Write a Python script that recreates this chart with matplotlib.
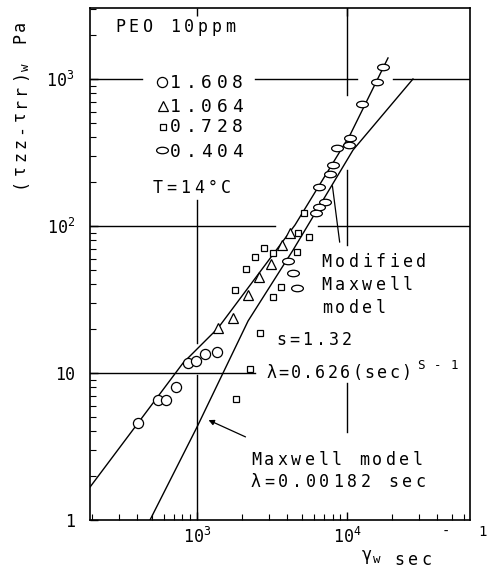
import matplotlib.pyplot as plt
import matplotlib.path as mpath
from matplotlib.transforms import Affine2D
from matplotlib.ticker import NullFormatter

# wall shear rate (1/s) vs first normal stress difference (Pa), PEO 10 ppm, T = 14 C
d1608_x = [404, 550, 621, 724, 871, 985, 1130, 1360]
d1608_y = [4.6, 6.6, 6.6, 8.0, 11.7, 12.1, 13.5, 13.9]

d1064_x = [1380, 1740, 2190, 2590, 3110, 3690, 4170]
d1064_y = [20.2, 23.7, 33.9, 45, 55, 74, 90]

d0728_x = [1790, 2120, 2440, 2800, 3210, 3210, 3630, 4640, 5580, 2630, 2260, 1820, 4710, 5170]
d0728_y = [36.7, 51, 61.5, 70.8, 65.5, 32.9, 38.5, 66.6, 84.2, 18.7, 10.6, 6.65, 89.6, 122]

d0404_x = [17400, 15900, 12600, 10500, 10300, 8570, 8070, 7700, 6510, 7130, 6510, 6210, 4050, 4370, 4640]
d0404_y = [1210, 955, 676, 397, 356, 339, 260, 226, 184, 146, 135, 122, 57.8, 47.9, 37.9]

# model curves
modified_x = [194, 807, 1380, 4500, 10470, 18750]
modified_y = [1.68, 11.7, 20.2, 101.6, 416, 1390]
maxwell_x = [486, 1000, 2190, 4370, 10970, 27500]
maxwell_y = [1.0, 4.29, 22.6, 68.7, 329, 1000]

MONO = 'DejaVu Sans Mono'
plt.rcParams['font.family'] = MONO

W, H = 488, 569
fig = plt.figure(figsize=(W / 100, H / 100), dpi=100)
ax = fig.add_axes([90 / W, 1 - 520 / H, 380 / W, 512 / H])
ax.set_xscale('log')
ax.set_yscale('log')
ax.set_xlim(193.5, 66000)
ax.set_ylim(1, 3040)


def xf(px):
    return (px - 90) / 380


def yf(py):
    return (520 - py) / 512


def typed(s, x, y, step, size=12, rot=0):
    # typewriter lettering: one character per fixed pitch (pixels, from top-left)
    for i, ch in enumerate(s):
        if ch == ' ':
            continue
        if rot:
            cy = y - (i + 0.5) * step
            fig.text(x / W, 1 - cy / H, ch, rotation=90, rotation_mode='anchor',
                     ha='center', va='baseline', fontsize=size)
        else:
            cx = x + (i + 0.5) * step
            fig.text(cx / W, 1 - y / H, ch, ha='center', va='baseline', fontsize=size)


# broken grid lines (interrupted where the lettering sits)
for lo, hi in [(90, 142), (255, 357), (393, 470)]:
    ax.axhline(1000, xf(lo), xf(hi), color='black', lw=1.0)
for lo, hi in [(90, 275), (318, 470)]:
    ax.axhline(100, xf(lo), xf(hi), color='black', lw=1.0)
ax.axhline(10, xf(90), xf(255), color='black', lw=1.0)
for lo, hi in [(200, 343), (375, 520)]:
    ax.axvline(1000, yf(hi), yf(lo), color='black', lw=1.0)
for lo, hi in [(8, 95), (170, 245), (383, 432)]:
    ax.axvline(10000, yf(hi), yf(lo), color='black', lw=1.0)

ax.plot(modified_x, modified_y, color='black', lw=1.0, zorder=2)
ax.plot(maxwell_x, maxwell_y, color='black', lw=1.0, zorder=2)

ellipse = mpath.Path.unit_circle().transformed(Affine2D().scale(1, 0.55))
mk = dict(ls='none', mfc='white', mec='black', mew=0.9, zorder=3)
series = [
    (d1608_x, d1608_y, 'o', 7.3, '1.608'),
    (d1064_x, d1064_y, '^', 6.8, '1.064'),
    (d0728_x, d0728_y, 's', 4.8, '0.728'),
    (d0404_x, d0404_y, ellipse, 8.5, '0.404'),
]
for x, y, m, ms, lab in series:
    ax.plot(x, y, marker=m, ms=ms, **mk)

# legend, drawn by hand like the original
leg_pos = [(162, 82, 88), (163, 106, 112), (163, 127, 132), (162, 150, 157)]
for (x, y, m, ms, lab), (mx, my, base) in zip(series, leg_pos):
    ax.plot([mx / W], [1 - my / H], marker=m, ms=ms, transform=fig.transFigure,
            clip_on=False, **mk)
    typed(lab, 168, base, 15.4, 13)

# pointer lines
ax.annotate('', xy=(7943, 196), xytext=(8980, 74.3),
            arrowprops=dict(arrowstyle='-', color='black', lw=0.9))
ax.annotate('', xy=(1148, 4.87), xytext=(2188, 3.61),
            arrowprops=dict(arrowstyle='-|>', color='black', lw=0.9,
                            mutation_scale=8))

# lettering
typed('PEO 10ppm', 113, 32, 13.8)
typed('T=14°C', 151, 193, 13.7)
typed('Modified', 320, 267, 13.5)
typed('Maxwell', 320, 290, 13.5)
typed('model', 320, 313, 13.5)
typed('s=1.32', 275, 345, 13)
typed('λ=0.626(sec)', 265, 378, 12.3)
typed('S-1', 413, 369, 16.5, 9)
typed('Maxwell model', 249, 465, 13.5)
typed('λ=0.00182 sec', 249, 487, 13.7)

# axis titles
typed('γ', 362, 560, 10)
typed('w', 372, 563, 10, 9)
typed('sec', 392, 565, 13.7)
typed('-', 440, 536, 12, 10)
typed('1', 478, 536, 10, 10)

typed('(τzz-τrr)', 25, 190, 13.5, 12, rot=90)
typed('w', 29, 72, 10, 9, rot=90)
typed('Pa', 25, 44, 12, 12, rot=90)

# ticks
ax.set_xticks([1e3, 1e4], [r'$\mathregular{10^3}$', r'$\mathregular{10^4}$'])
ax.set_yticks([1, 10, 100, 1000],
              ['1', '10', r'$\mathregular{10^2}$', r'$\mathregular{10^3}$'])
ax.xaxis.set_minor_formatter(NullFormatter())
ax.yaxis.set_minor_formatter(NullFormatter())
ax.tick_params(which='major', direction='in', length=6, width=1, labelsize=12,
               top=True, right=False)
ax.tick_params(axis='x', which='major', pad=5)
ax.tick_params(axis='y', which='major', pad=11)
ax.tick_params(which='minor', direction='in', length=4, width=0.8,
               top=False, right=False)
for sp in ax.spines.values():
    sp.set_linewidth(1.2)

fig.savefig('out.png', dpi=100)
